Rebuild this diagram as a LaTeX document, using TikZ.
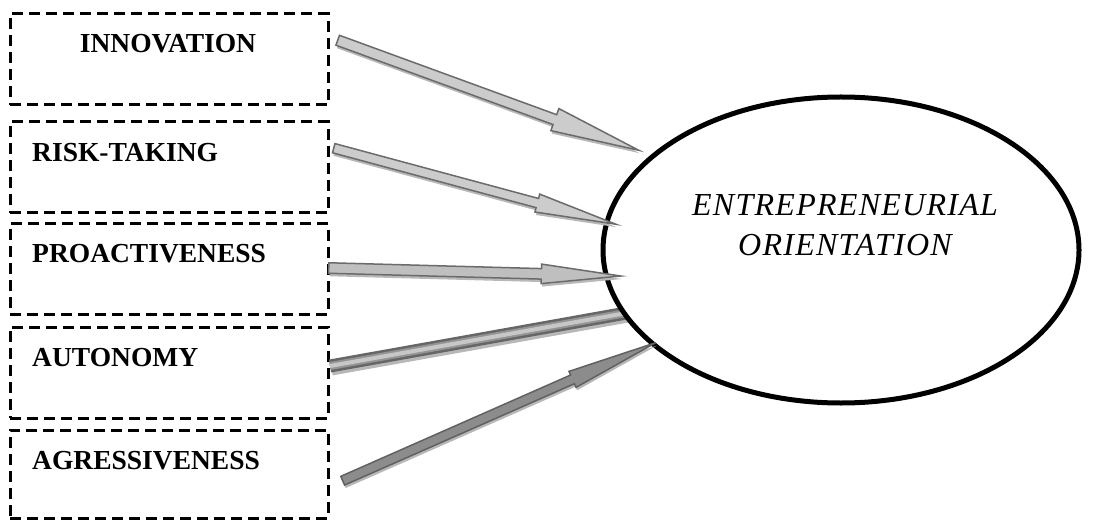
\documentclass[tikz,border=0pt]{standalone}
\usepackage{fontspec}
\setmainfont{Liberation Serif}
\newfontfamily\eofont[LetterSpace=4]{Liberation Serif}
\usetikzlibrary{shapes.arrows,shapes.geometric,shadows,calc}
\tikzset{
  dbox/.style={draw=black, line width=3pt, dash pattern=on 11pt off 6pt, minimum width=318pt, inner sep=0pt},
  lbl/.style={font=\fontsize{27.5}{30}\selectfont\bfseries, inner sep=0pt},
  barrow/.style={single arrow, draw=black!58, fill=black!20, line width=1.5pt,
    drop shadow={shadow xshift=1pt, shadow yshift=-3pt, fill=black!28, opacity=1}},
  darrow/.style={fill=black!45, draw=black!62},
}
\newcommand{\barr}[7]{%
  \path let \p1=($(#4)-(#3)$), \n1={veclen(\x1,\y1)}, \n2={atan2(\y1,\x1)} in
    node[barrow, #2, minimum height=\n1, minimum width=0pt, inner xsep=0pt,
      inner ysep=#5/2, single arrow head extend=#6/2-#5/2,
      single arrow tip angle=#7, rotate=\n2, anchor=tail] (#1) at (#3) {};}
\begin{document}
\begin{tikzpicture}[x=1pt,y=-1pt]
\useasboundingbox (0,0) rectangle (1099,521);
% boxes
\node[dbox, minimum height=91pt] (b1) at (169,59.5) {};
\node[dbox, minimum height=91pt] (b2) at (169,167.5) {};
\node[dbox, minimum height=90pt] (b3) at (169,269) {};
\node[dbox, minimum height=91pt] (b4) at (169,372.5) {};
\node[dbox, minimum height=88pt] (b5) at (169,474) {};
\node[lbl, anchor=base] (t1) at (168,53) {INNOVATION};
\node[lbl, anchor=base west] (t2) at (32,162) {RISK-TAKING};
\node[lbl, anchor=base west] (t3) at (32,262) {PROACTIVENESS};
\node[lbl, anchor=base west] (t4) at (32,366) {AUTONOMY};
\node[lbl, anchor=base west] (t5) at (32,469) {AGRESSIVENESS};
% arrow coordinates
\coordinate (a1s) at (337,40);  \coordinate (a1e) at (638,150);
\coordinate (a2s) at (333,148); \coordinate (a2e) at (615,224);
\coordinate (a3s) at (328,268); \coordinate (a3e) at (620,276);
\coordinate (a4s) at (330,366); \coordinate (a4e) at (660,307);
\coordinate (a5s) at (342,481); \coordinate (a5e) at (655,343);
\coordinate (a4ss) at (331.5,369); \coordinate (a4es) at (661.5,310);
% arrow 4 (head hidden by the ellipse)
\draw[line width=13pt, black!28] (a4ss) -- (a4es);
\draw[line width=13pt, black!60] (a4s) -- (a4e);
\draw[line width=8pt, black!42] (a4s) -- (a4e);
\draw[line width=4pt, black!22] (a4s) -- (a4e);
% ellipse
\node[draw, line width=5pt, fill=white, ellipse, minimum width=476pt, minimum height=306pt, inner sep=0pt] (eo) at (841,250) {};
\node[inner sep=0pt, align=center, font=\eofont\itshape\fontsize{32}{40}\selectfont] (eot) at (845,225) {ENTREPRENEURIAL\\ORIENTATION};
% arrows
\barr{ar1}{}{a1s}{a1e}{9pt}{22pt}{15}
\barr{ar2}{}{a2s}{a2e}{8pt}{17pt}{13}
\barr{ar3}{fill=black!25}{a3s}{a3e}{9pt}{18pt}{14}
\barr{ar5}{darrow}{a5s}{a5e}{8pt}{16pt}{11}
\end{tikzpicture}
\end{document}
